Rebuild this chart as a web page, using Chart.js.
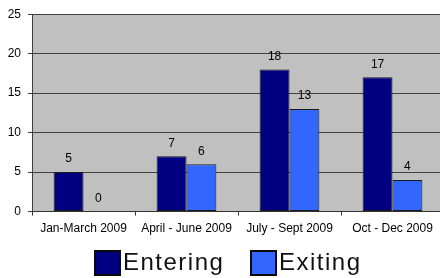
<!DOCTYPE html>
<html>
<head>
<meta charset="utf-8">
<script src="https://cdn.jsdelivr.net/npm/chart.js@4/dist/chart.umd.min.js"></script>
<style>
  html, body { margin: 0; padding: 0; background: #fff; overflow: hidden; }
  #wrap { width: 444px; height: 278px; }
</style>
</head>
<body>
<div id="wrap"><canvas id="myChart" width="444" height="278"></canvas></div>
<script>
var categories = ['Jan-March 2009', 'April - June 2009', 'July - Sept 2009', 'Oct - Dec 2009'];
var entering = [5, 7, 18, 17];
var exiting = [0, 6, 13, 4];
var yTicks = [0, 5, 10, 15, 20, 25];

var FONT = '"Liberation Sans", Arial, sans-serif';

// draws the value above each bar
var valueLabels = {
    id: 'valueLabels',
    afterDatasetsDraw: function(chart) {
        var ctx = chart.ctx;
        ctx.save();
        ctx.font = '12px ' + FONT;
        ctx.fillStyle = '#000';
        ctx.textAlign = 'center';
        ctx.textBaseline = 'middle';
        chart.data.datasets.forEach(function(ds, i) {
            chart.getDatasetMeta(i).data.forEach(function(bar, j) {
                ctx.fillText(ds.data[j], bar.x, bar.y - 13);
            });
        });
        ctx.restore();
    }
};

// grey plot background
var plotBg = {
    id: 'plotBg',
    beforeDraw: function(chart) {
        var a = chart.chartArea;
        chart.ctx.save();
        chart.ctx.fillStyle = '#c0c0c0';
        chart.ctx.fillRect(a.left, a.top, a.right - a.left, a.bottom - a.top);
        chart.ctx.restore();
    }
};

// legend under the axis: box right next to the text
var bottomLegend = {
    id: 'bottomLegend',
    afterDraw: function(chart) {
        var ctx = chart.ctx;
        var starts = [95, 251];
        ctx.save();
        ctx.font = '24px ' + FONT;
        ctx.letterSpacing = '1.5px';
        ctx.textBaseline = 'middle';
        ctx.textAlign = 'left';
        chart.data.datasets.forEach(function(ds, i) {
            var x = starts[i];
            ctx.fillStyle = ds.backgroundColor;
            ctx.fillRect(x, 251, 25, 24);
            ctx.lineWidth = 2;
            ctx.strokeStyle = '#0a0a0a';
            ctx.strokeRect(x, 251, 25, 24);
            ctx.fillStyle = '#111';
            ctx.fillText(ds.label, x + 28, 263);
        });
        ctx.restore();
    }
};

var ctx = document.getElementById('myChart').getContext('2d');
var myChart = new Chart(ctx, {
    type: 'bar',
    data: {
        labels: categories,
        datasets: [{
            label: 'Entering',
            data: entering,
            backgroundColor: '#000080',
            borderColor: '#1a1a1a',
            borderWidth: 1,
            borderSkipped: false
        }, {
            label: 'Exiting',
            data: exiting,
            backgroundColor: '#3366ff',
            borderColor: '#1a1a1a',
            borderWidth: 1,
            borderSkipped: false
        }]
    },
    options: {
        responsive: false,
        animation: false,
        categoryPercentage: 0.58,
        barPercentage: 1,
        layout: { padding: { top: 7, right: 0, left: 0, bottom: 36 } },
        plugins: {
            tooltip: { enabled: false },
            legend: { display: false }
        },
        scales: {
            x: {
                grid: { drawOnChartArea: false, drawTicks: true, tickLength: 4, color: '#333' },
                border: { color: '#333' },
                ticks: {
                    color: '#000',
                    font: { size: 12, family: FONT },
                    padding: 6,
                    maxRotation: 0
                }
            },
            y: {
                min: 0,
                max: 25,
                afterBuildTicks: function(axis) {
                    axis.ticks = yTicks.map(function(v) { return { value: v }; });
                },
                afterFit: function(axis) { axis.width = 32; },
                grid: { color: '#404040', tickLength: 4 },
                border: { color: '#404040' },
                ticks: {
                    color: '#000',
                    font: { size: 12, family: FONT },
                    padding: 7
                }
            }
        }
    },
    plugins: [plotBg, valueLabels, bottomLegend]
});
</script>
</body>
</html>
